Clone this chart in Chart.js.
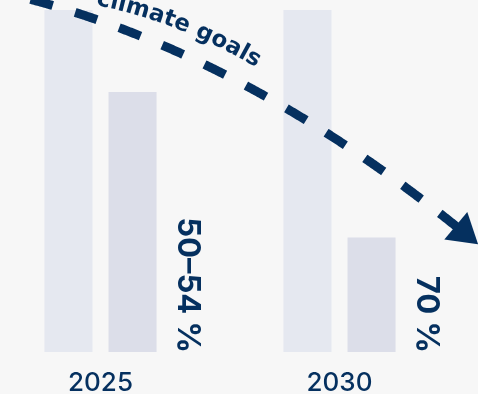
<!DOCTYPE html>
<html>
<head>
<meta charset="utf-8">
<script src="https://cdn.jsdelivr.net/npm/chart.js@4"></script>
<style>
html, body { margin: 0; padding: 0; background: #f7f7f7; overflow: hidden; }
#wrap { position: absolute; left: -19px; top: 0; width: 497px; height: 414px; }
</style>
</head>
<body>
<div id="wrap"><canvas id="chart"></canvas></div>
<script>
var years = ['2025', '2030'];
var reference = [100, 100];
var remaining = [76, 33.5];
var reductionLabels = ['50–54 %', '70 %'];
// arrow path (quadratic curve) in category-index / value units
var arrowX = [-0.42, 0.58, 1.58];
var arrowY = [105.3, 89.5, 31.5];
// baseline of the caption above the arrow, same units
var captionX = [-0.084, 0.303, 0.69];
var captionY = [102.2, 98.1, 81.6];
var arrowText = 'climate goals';

var navy = '#05305f';

function curvePoints(chart, px, py) {
  var xs = chart.scales.x, ys = chart.scales.y;
  var p = [];
  for (var i = 0; i < 3; i++) p.push({ x: xs.getPixelForValue(px[i]), y: ys.getPixelForValue(py[i]) });
  var pts = [], N = 400;
  for (var k = 0; k <= N; k++) {
    var t = k / N, u = 1 - t;
    pts.push({
      t: t,
      x: u * u * p[0].x + 2 * u * t * p[1].x + t * t * p[2].x,
      y: u * u * p[0].y + 2 * u * t * p[1].y + t * t * p[2].y
    });
  }
  pts[0].s = 0;
  for (var j = 1; j < pts.length; j++) {
    pts[j].s = pts[j - 1].s + Math.hypot(pts[j].x - pts[j - 1].x, pts[j].y - pts[j - 1].y);
  }
  return { ctrl: p, pts: pts };
}

function atLength(pts, s) {
  for (var i = 1; i < pts.length; i++) {
    if (pts[i].s >= s) {
      var a = pts[i - 1], b = pts[i];
      var f = (s - a.s) / (b.s - a.s || 1);
      return { x: a.x + (b.x - a.x) * f, y: a.y + (b.y - a.y) * f, ang: Math.atan2(b.y - a.y, b.x - a.x) };
    }
  }
  var l = pts[pts.length - 1], m = pts[pts.length - 2];
  return { x: l.x, y: l.y, ang: Math.atan2(l.y - m.y, l.x - m.x) };
}

var decor = {
  id: 'decor',
  afterDatasetsDraw: function(chart) {
    var ctx = chart.ctx;
    // labels beside the short bars
    var meta = chart.getDatasetMeta(1);
    ctx.save();
    ctx.fillStyle = navy;
    ctx.font = '700 31px Inter';
    ctx.textAlign = 'right';
    ctx.textBaseline = 'middle';
    meta.data.forEach(function(bar, i) {
      ctx.save();
      ctx.translate(bar.x + 54.5, bar.base + 1);
      ctx.rotate(Math.PI / 2);
      ctx.fillText(reductionLabels[i], 0, 0);
      ctx.restore();
    });
    ctx.restore();

    // dashed arrow
    var c = curvePoints(chart, arrowX, arrowY);
    var pts = c.pts;
    var total = pts[pts.length - 1].s;
    var tip = pts[pts.length - 1];
    var endAng = Math.atan2(c.ctrl[2].y - c.ctrl[1].y, c.ctrl[2].x - c.ctrl[1].x);
    var headLen = 29, headHalf = 18;
    var shaftEnd = total - headLen + 4;
    ctx.save();
    ctx.strokeStyle = navy;
    ctx.lineWidth = 9;
    ctx.lineCap = 'butt';
    ctx.setLineDash([23, 23.5]);
    ctx.beginPath();
    var started = false;
    for (var i = pts.length - 1; i >= 0; i--) {
      if (pts[i].s > shaftEnd) continue;
      if (!started) { ctx.moveTo(pts[i].x, pts[i].y); started = true; }
      else ctx.lineTo(pts[i].x, pts[i].y);
    }
    ctx.stroke();
    ctx.setLineDash([]);
    var bx = tip.x - Math.cos(endAng) * headLen, by = tip.y - Math.sin(endAng) * headLen;
    ctx.fillStyle = navy;
    ctx.beginPath();
    ctx.moveTo(tip.x, tip.y);
    ctx.lineTo(bx + Math.sin(endAng) * headHalf, by - Math.cos(endAng) * headHalf);
    ctx.lineTo(bx - Math.sin(endAng) * headHalf, by + Math.cos(endAng) * headHalf);
    ctx.closePath();
    ctx.fill();

    // caption along its own curve
    var cp = curvePoints(chart, captionX, captionY).pts;
    var sEnd = 0;
    for (var k = 0; k < cp.length; k++) { if (cp[k].t >= 0.95) { sEnd = cp[k].s; break; } }
    ctx.font = '700 23px "DejaVu Sans"';
    ctx.textAlign = 'center';
    ctx.textBaseline = 'alphabetic';
    var width = ctx.measureText(arrowText).width;
    var cursor = sEnd - width;
    for (var n = 0; n < arrowText.length; n++) {
      var ch = arrowText[n];
      var w = ctx.measureText(ch).width;
      var q = atLength(cp, cursor + w / 2);
      ctx.save();
      ctx.translate(q.x, q.y);
      ctx.rotate(q.ang);
      ctx.fillText(ch, 0, 0);
      ctx.restore();
      cursor += w;
    }
    ctx.restore();
  }
};

new Chart(document.getElementById('chart'), {
  type: 'bar',
  data: {
    labels: years,
    datasets: [{
      label: 'Reference',
      data: reference,
      backgroundColor: '#e5e8f0',
      categoryPercentage: 0.536,
      barPercentage: 0.75
    }, {
      label: 'Target',
      data: remaining,
      backgroundColor: '#dcdee9',
      categoryPercentage: 0.536,
      barPercentage: 0.75
    }]
  },
  options: {
    responsive: true,
    maintainAspectRatio: false,
    animation: false,
    layout: { padding: { top: 10, right: 19, bottom: 0, left: 0 } },
    plugins: { legend: { display: false }, tooltip: { enabled: false } },
    scales: {
      x: {
        grid: { display: false, drawTicks: false },
        border: { display: false },
        ticks: { color: navy, padding: 18, font: { family: 'Inter', size: 26, weight: '500', lineHeight: 1 } }
      },
      y: { display: false, min: 0, max: 100 }
    }
  },
  plugins: [decor]
});
</script>
</body>
</html>
